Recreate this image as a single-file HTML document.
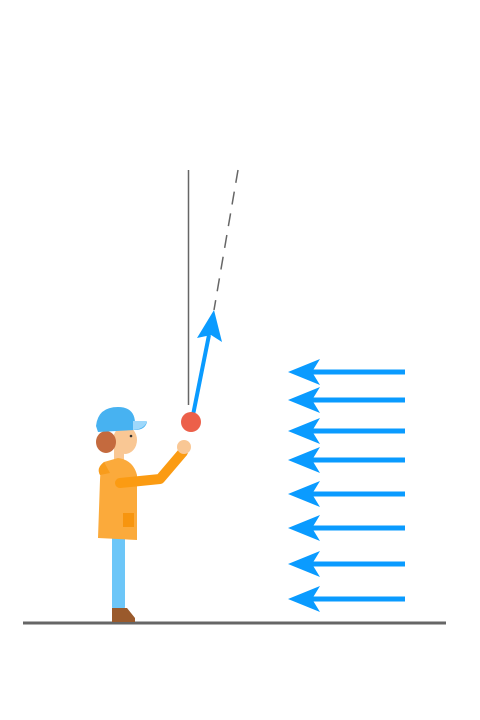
<!DOCTYPE html>
<html><head><meta charset="utf-8"><style>body{margin:0;background:#fff}svg{display:block}</style></head>
<body>
<svg width="480" height="720" viewBox="0 0 480 720">
<line x1="23" y1="623" x2="446" y2="623" stroke="#666" stroke-width="3"/>
<line x1="188.5" y1="170" x2="188.5" y2="405" stroke="#666" stroke-width="1.5"/>
<line x1="238" y1="170" x2="214" y2="310" stroke="#666" stroke-width="1.5" stroke-dasharray="13,9"/>
<g>
<line x1="192" y1="420" x2="209" y2="335" stroke="#0a9bff" stroke-width="4"/>
<polygon points="214,310 222,342 211,335 197,338" fill="#0a9bff"/>
</g>
<circle cx="191" cy="422" r="10" fill="#ec604a"/>
<g id="wind"></g>
<g>
<rect x="112" y="535" width="13" height="75" fill="#6cc6f8" rx="3"/>
<path d="M112,608 L127,608 L135,618 L135,622 L112,622 Z" fill="#9a5a2c"/>
<rect x="114" y="447" width="10" height="16" fill="#f9c794"/>
<path d="M104,462 Q100,470 100,480 L98,538 L137,540 L137,475 Q133,460 118,458 Z" fill="#fbaa3b"/>
<path d="M104,462 Q96,468 100,475 L110,473 Z" fill="#f89c1c"/>
<rect x="123" y="513" width="11" height="14" fill="#f7950f"/>
<path d="M120,483 L160,479 L183,452" stroke="#fb9b12" stroke-width="10" fill="none" stroke-linecap="round" stroke-linejoin="round"/>
<circle cx="184" cy="447" r="7" fill="#f9c794"/>
<ellipse cx="125" cy="440" rx="12" ry="14" fill="#f9c794"/>
<ellipse cx="106" cy="442" rx="10" ry="11" fill="#c46a3e"/>
<path d="M96,426 Q98,407 118,407 Q134,407 135,422 L147,422 Q145,430 135,430 L98,432 Z" fill="#47b2f1"/>
<path d="M133,421 L147,421 Q145,429 133,430 Z" fill="#9ed8fb"/>
<circle cx="131" cy="436" r="1.3" fill="#333"/>
</g>
<script>
const windRows = [372, 400, 431, 460, 494, 528, 564, 599];
const g = document.getElementById('wind');
const ns = 'http://www.w3.org/2000/svg';
windRows.forEach((y, i) => {
  const grp = document.createElementNS(ns, 'g');
  
  
  const l = document.createElementNS(ns, 'line');
  l.setAttribute('x1', 405); l.setAttribute('x2', 310);
  l.setAttribute('y1', y); l.setAttribute('y2', y);
  l.setAttribute('stroke', '#0a9bff'); l.setAttribute('stroke-width', 5);
  const p = document.createElementNS(ns, 'polygon');
  p.setAttribute('points', `288,${y} 320,${y-13} 312,${y} 320,${y+13}`);
  p.setAttribute('fill', '#0a9bff');
  grp.appendChild(l); grp.appendChild(p); g.appendChild(grp);
});
</script>
</svg>
</body></html>
